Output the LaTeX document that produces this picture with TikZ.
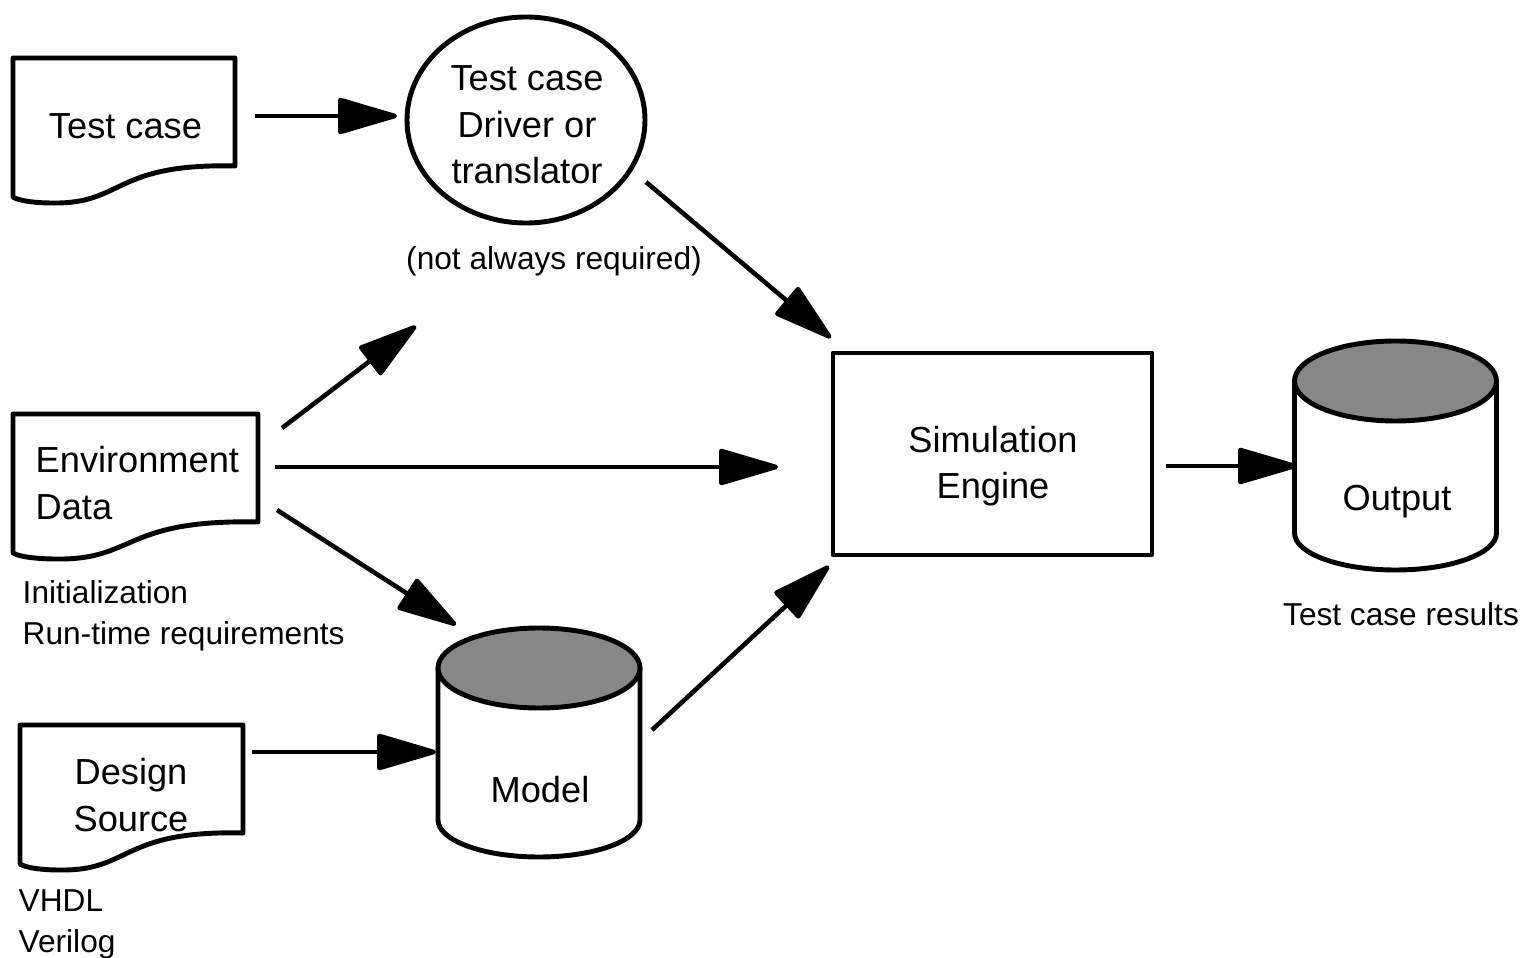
\documentclass[tikz,border=0pt]{standalone}
\usepackage{fontspec}
\setmainfont{Liberation Sans}
\usetikzlibrary{arrows.meta}
\definecolor{topgray}{RGB}{135,135,135}
\tikzset{
  shapeline/.style={line width=1.4pt, line join=round},
  conn/.style={line width=1.3pt, -{Triangle[length=18.5pt,width=10.5pt,round]}},
  bigtext/.style={font=\fontsize{10.3}{13.2}\selectfont, inner sep=0pt},
  smalltext/.style={font=\fontsize{9}{11.7}\selectfont, inner sep=0pt},
}
\newcommand\docshape[3]{%
  \draw[shapeline, shift={(#1,#2)}, xscale=#3] (0,0) -- (1,0) -- (1,108)
    .. controls (0.45,105) and (0.5,146) .. (0.18,145)
    .. controls (0.08,145) and (0.02,142) .. (0,139) -- cycle;}
\newcommand\cylshape[2]{%
  \begin{scope}[shift={(#1,#2)}]
  \draw[shapeline, fill=white] (-101,0) -- (-101,152)
    .. controls (-101,172.4) and (-55.8,189) .. (0,189)
    .. controls (55.8,189) and (101,172.4) .. (101,152) -- (101,0);
  \draw[shapeline, fill=topgray] (0,0) ellipse [x radius=101, y radius=40];
  \end{scope}}
\begin{document}
\begin{tikzpicture}[x=0.01cm, y=-0.01cm]
\useasboundingbox (0,0) rectangle (1536,958);

% shapes
\docshape{13}{58}{222}
\docshape{13}{414}{245}
\docshape{20}{725}{223}
\draw[shapeline] (526,120) ellipse [x radius=119, y radius=103];
\draw[shapeline] (833,353) rectangle (1152,555);
\cylshape{539}{668}
\cylshape{1395.5}{381}

% texts
\node[bigtext] (tc) at (125.5,126) {Test case};
\node[bigtext, align=center] (drv) at (527,125) {Test case\\Driver or\\translator};
\node[smalltext] (nar) at (554,261) {(not always required)};
\node[bigtext, align=left, anchor=west] (env) at (35,483) {Environment\\Data};
\node[smalltext, align=left, anchor=west] (init) at (22,616) {Initialization\\Run-time requirements};
\node[bigtext, align=center] (ds) at (131,795) {Design\\Source};
\node[smalltext, align=left, anchor=west] (vh) at (18,924) {VHDL\\Verilog};
\node[bigtext, align=center] (sim) at (993,466) {Simulation\\Engine};
\node[bigtext] (model) at (540,790) {Model};
\node[bigtext] (out) at (1397,502) {Output};
\node[smalltext] (tcr) at (1401,614) {Test case results};

% connector end points
\coordinate (a1s) at (255,116);  \coordinate (a1e) at (397,116);
\coordinate (a2s) at (646,182);  \coordinate (a2e) at (831,338);
\coordinate (a3s) at (282,428);  \coordinate (a3e) at (416,326);
\coordinate (a4s) at (275,467);  \coordinate (a4e) at (778,467);
\coordinate (a5s) at (277,510);  \coordinate (a5e) at (456,625);
\coordinate (a6s) at (252,752);  \coordinate (a6e) at (436,752);
\coordinate (a7s) at (652,730);  \coordinate (a7e) at (829,566);
\coordinate (a8s) at (1166,466); \coordinate (a8e) at (1297,466);

\draw[conn] (a1s) -- (a1e);
\draw[conn] (a2s) -- (a2e);
\draw[conn] (a3s) -- (a3e);
\draw[conn] (a4s) -- (a4e);
\draw[conn] (a5s) -- (a5e);
\draw[conn] (a6s) -- (a6e);
\draw[conn] (a7s) -- (a7e);
\draw[conn] (a8s) -- (a8e);
\end{tikzpicture}
\end{document}
